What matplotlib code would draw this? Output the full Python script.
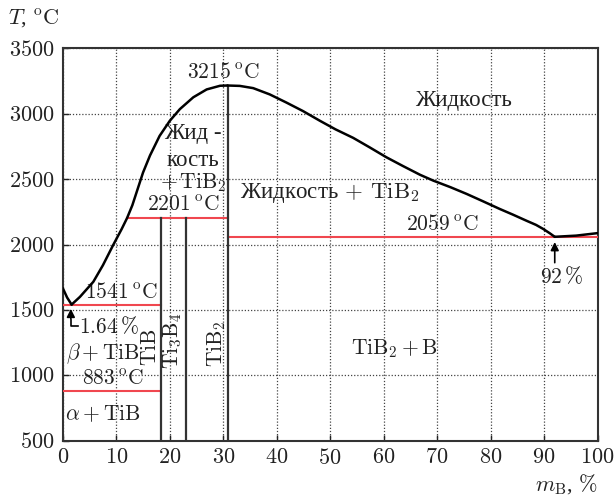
import matplotlib.pyplot as plt
import numpy as np

plt.rcParams['mathtext.fontset'] = 'cm'
plt.rcParams['font.family'] = ['Liberation Serif', 'DejaVu Serif']

# liquidus, Ti side (down to the eutectic at 1.64 %)
liq_ti_x = [0, 0.8, 1.64]
liq_ti_t = [1666, 1595, 1541]
# liquidus from the eutectic up to the TiB2 maximum
liq_a_x = [1.64, 3.2, 5.7, 7.5, 9.4, 11.0, 12.0, 13.0, 14.0, 15.0, 16.3, 18.1, 20.0,
           21.9, 24.4, 26.9, 29.4, 30.8]
liq_a_t = [1541, 1600, 1715, 1842, 1995, 2118, 2201, 2300, 2425, 2550, 2680, 2830, 2945,
           3035, 3125, 3185, 3213, 3215]
# liquidus from TiB2 down to the eutectic at 92 %
liq_b_x = [30.8, 33.1, 35.6, 38.7, 41.8, 44.9, 48.1, 51.0, 54.3, 57.4, 60.5, 63.6,
           66.8, 69.3, 72.5, 75.5, 78.6, 81.7, 84.2, 86.7, 88.5, 89.8, 91.0, 92.0]
liq_b_t = [3215, 3212, 3195, 3147, 3085, 3020, 2945, 2880, 2815, 2742, 2667, 2600,
           2533, 2488, 2438, 2387, 2330, 2272, 2228, 2182, 2150, 2120, 2088, 2059]
# boron side
liq_c_x = [92.0, 96.0, 100.0]
liq_c_t = [2059, 2068, 2087]

# isotherms: (x start, x end, temperature)
iso_x0 = [0, 0, 12.0, 30.8]
iso_x1 = [18.4, 18.4, 30.8, 100]
iso_t = [883, 1541, 2201, 2059]

# compounds: composition and top of the line
comp_x = [18.4, 23.1, 30.8]
comp_top = [2201, 2201, 3215]

fig = plt.figure(figsize=(6.16, 4.97), dpi=100)
ax = fig.add_axes([0.102, 0.113, 0.868, 0.790])

ax.set_xlim(0, 100)
ax.set_ylim(500, 3500)
ax.set_xticks(np.arange(0, 101, 10))
ax.set_yticks(np.arange(500, 3501, 500))
ax.set_xticklabels([f'${v}$' for v in range(0, 101, 10)], fontsize=16)
ax.set_yticklabels([f'${v}$' for v in range(500, 3501, 500)], fontsize=16)
ax.tick_params(direction='in', length=4, width=1, colors='#222222', pad=6)
ax.grid(True, linestyle=(0, (1, 1.5)), color='#444444', linewidth=0.9)
for s in ax.spines.values():
    s.set_linewidth(1.5)
    s.set_color('#333333')

red = '#f0474f'
for x0, x1, t in zip(iso_x0, iso_x1, iso_t):
    ax.plot([x0, x1], [t, t], color=red, lw=1.5, zorder=3)

for x, top in zip(comp_x, comp_top):
    ax.plot([x, x], [500, top], color='#333333', lw=1.6, zorder=4)

for xs, ts in [(liq_ti_x, liq_ti_t), (liq_a_x, liq_a_t), (liq_b_x, liq_b_t), (liq_c_x, liq_c_t)]:
    ax.plot(xs, ts, color='black', lw=1.8, zorder=5, solid_capstyle='round',
            solid_joinstyle='round')

fs = 15.5
fc = 16.5
c = '#222222'
ax.text(30, 3310, r'$3215\,^{\rm o}{\rm C}$', ha='center', va='center', fontsize=fs, color=c)
ax.text(75, 3100, 'Жидкость', ha='center', va='center', fontsize=fc, color=c)
ax.text(24.3, 2850, 'Жид -', ha='center', va='center', fontsize=fc, color=c)
ax.text(24.3, 2640, 'кость', ha='center', va='center', fontsize=fc, color=c)
ax.text(24.3, 2470, r'$+\,\mathrm{TiB}_2$', ha='center', va='center', fontsize=fs, color=c)
ax.text(22.5, 2290, r'$2201\,^{\rm o}{\rm C}$', ha='center', va='center', fontsize=fs, color=c)
ax.text(50, 2390, r'Жидкость$\,+\,\mathrm{TiB}_2$', ha='center', va='center', fontsize=fc, color=c)
ax.text(71, 2148, r'$2059\,^{\rm o}{\rm C}$', ha='center', va='center', fontsize=fs, color=c)
ax.text(93.3, 1750, r'$92\,\%$', ha='center', va='center', fontsize=fs, color=c)
ax.annotate('', xy=(92, 2040), xytext=(92, 1840),
            arrowprops=dict(arrowstyle='-|>', color='black', lw=1.2, mutation_scale=12))
ax.text(62, 1208, r'$\mathrm{TiB}_2+\mathrm{B}$', ha='center', va='center', fontsize=fs, color=c)
ax.text(11, 1626, r'$1541\,^{\rm o}{\rm C}$', ha='center', va='center', fontsize=fs, color=c)
ax.text(8.7, 1371, r'$1.64\,\%$', ha='center', va='center', fontsize=fs, color=c)
ax.annotate('', xy=(1.5, 1530), xytext=(1.5, 1410),
            arrowprops=dict(arrowstyle='-|>', color='black', lw=1.2, mutation_scale=12))
ax.plot([1.5, 1.5, 2.8], [1420, 1380, 1380], color='black', lw=1.2)
ax.text(7.5, 1168, r'$\beta+\mathrm{TiB}$', ha='center', va='center', fontsize=fs, color=c)
ax.text(9.4, 964, r'$883\,^{\rm o}{\rm C}$', ha='center', va='center', fontsize=fs, color=c)
ax.text(7.5, 696, r'$\alpha+\mathrm{TiB}$', ha='center', va='center', fontsize=fs, color=c)
ax.text(16.6, 1218, r'$\mathrm{TiB}$', ha='center', va='center', rotation=90, fontsize=fs, color=c)
ax.text(20.6, 1269, r'$\mathrm{Ti}_3\mathrm{B}_4$', ha='center', va='center', rotation=90, fontsize=fs, color=c)
ax.text(28.7, 1244, r'$\mathrm{TiB}_2$', ha='center', va='center', rotation=90, fontsize=fs, color=c)

fig.text(0.013, 0.962, r'$T$, $^{\rm o}{\rm C}$', ha='left', va='center', fontsize=16, color=c)
fig.text(0.97, 0.025, r'$m_{\mathrm{B}}$, $\%$', ha='right', va='center', fontsize=16, color=c)

fig.savefig('out.png', dpi=100)
